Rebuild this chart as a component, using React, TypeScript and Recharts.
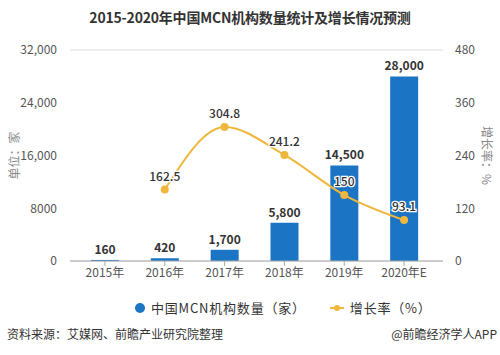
import React from "react";
import {
  ComposedChart,
  Bar,
  Line,
  XAxis,
  YAxis,
  CartesianGrid,
  LabelList,
} from "recharts";

const categories = ["2015年", "2016年", "2017年", "2018年", "2019年", "2020年E"];
const mcnCounts = [160, 420, 1700, 5800, 14500, 28000];
const growthRates: (number | null)[] = [null, 162.5, 304.8, 241.2, 150, 93.1];
const leftTicks = [0, 8000, 16000, 24000, 32000];
const rightTicks = [0, 120, 240, 360, 480];

const BLUE = "#1b74c4";
const GOLD = "#efb73c";
const FONT = "'Noto Sans CJK SC', 'Noto Sans', sans-serif";

const data = categories.map((c, i) => ({
  name: c,
  count: mcnCounts[i],
  rate: growthRates[i],
}));

const fmtLeft = (v: number) => (v >= 10000 ? v.toLocaleString("en-US") : String(v));
const fmtCount = (v: any) => Number(v).toLocaleString("en-US");

const RateLabel = (props: any) => {
  const { x, y, value } = props;
  if (value == null) return null;
  return (
    <text
      x={x}
      y={y - 9}
      textAnchor="middle"
      fontSize={12}
      fontWeight={500}
      fill="#333"
      stroke="#fff"
      strokeWidth={2.5}
      paintOrder="stroke"
      fontFamily={FONT}
    >
      {value}
    </text>
  );
};

export default function App() {
  return (
    <div
      style={{
        position: "absolute",
        left: 0,
        top: 0,
        width: 500,
        height: 355,
        background: "#fff",
        fontFamily: FONT,
      }}
    >
      <div
        style={{
          position: "absolute",
          top: 7,
          left: 0,
          width: 500,
          textAlign: "center",
          fontSize: 14,
          fontWeight: 700,
          color: "#333",
          lineHeight: "20px",
          letterSpacing: -0.2,
        }}
      >
        2015-2020年中国MCN机构数量统计及增长情况预测
      </div>
      <ComposedChart
        width={500}
        height={355}
        data={data}
        margin={{ top: 50, right: 0, left: 0, bottom: 64 }}
      >
        <CartesianGrid vertical={false} stroke="#dcdcdc" />
        <XAxis
          dataKey="name"
          padding={{ left: 5, right: 9 }}
          tick={{ fontSize: 12, fill: "#555", fontFamily: FONT }}
          axisLine={{ stroke: "#aaa" }}
          tickLine={{ stroke: "#aaa" }}
          tickSize={5}
          height={30}
        />
        <YAxis
          yAxisId="left"
          domain={[0, 32000]}
          ticks={leftTicks}
          tickFormatter={fmtLeft}
          width={70}
          axisLine={false}
          tickLine={false}
          tickMargin={7}
          tick={{ fontSize: 12, fill: "#555", fontFamily: FONT }}
          label={{
            value: "单位：家",
            angle: -90,
            position: "insideLeft",
            offset: 15,
            style: { fontSize: 12, fill: "#888", fontFamily: FONT, textAnchor: "middle" },
          }}
        />
        <YAxis
          yAxisId="right"
          orientation="right"
          domain={[0, 480]}
          ticks={rightTicks}
          width={57}
          axisLine={false}
          tickLine={false}
          tickMargin={6}
          tick={{ fontSize: 12, fill: "#555", fontFamily: FONT }}
          label={{
            value: "增长率：%",
            angle: 90,
            position: "insideRight",
            offset: 14,
            style: { fontSize: 12, fill: "#888", fontFamily: FONT, textAnchor: "middle" },
          }}
        />
        <Bar
          yAxisId="left"
          dataKey="count"
          fill={BLUE}
          barSize={28}
          isAnimationActive={false}
        >
          <LabelList
            dataKey="count"
            position="top"
            offset={6}
            formatter={fmtCount}
            style={{ fontSize: 12, fontWeight: 700, fill: "#333", fontFamily: FONT }}
          />
        </Bar>
        <Line
          yAxisId="right"
          dataKey="rate"
          type="monotone"
          stroke={GOLD}
          strokeWidth={2}
          dot={{ r: 4, fill: GOLD, stroke: GOLD, strokeWidth: 0 }}
          activeDot={false}
          connectNulls
          isAnimationActive={false}
        >
          <LabelList dataKey="rate" content={RateLabel} />
        </Line>
      </ComposedChart>
      <div
        style={{
          position: "absolute",
          top: 299,
          left: 135,
          display: "flex",
          alignItems: "center",
          fontSize: 13,
          color: "#333",
          lineHeight: "18px",
        }}
      >
        <span
          style={{
            display: "inline-block",
            width: 10,
            height: 10,
            borderRadius: 5,
            background: BLUE,
            marginRight: 6,
          }}
        />
        <span style={{ letterSpacing: 0.8 }}>中国MCN机构数量（家）</span>
        <span style={{ display: "inline-flex", alignItems: "center", marginLeft: 24, marginRight: 6, position: "relative", width: 14, height: 10 }}>
          <span style={{ position: "absolute", left: 0, top: 4, width: 14, height: 2, background: GOLD }} />
          <span style={{ position: "absolute", left: 4, top: 2, width: 6, height: 6, borderRadius: 3, background: GOLD }} />
        </span>
        <span style={{ letterSpacing: 0.8 }}>增长率（%）</span>
      </div>
      <div
        style={{
          position: "absolute",
          top: 325,
          left: 7,
          fontSize: 12,
          color: "#333",
          lineHeight: "18px",
        }}
      >
        资料来源：艾媒网、前瞻产业研究院整理
      </div>
      <div
        style={{
          position: "absolute",
          top: 325,
          right: 3,
          fontSize: 12,
          color: "#333",
          lineHeight: "18px",
        }}
      >
        @前瞻经济学人APP
      </div>
    </div>
  );
}
